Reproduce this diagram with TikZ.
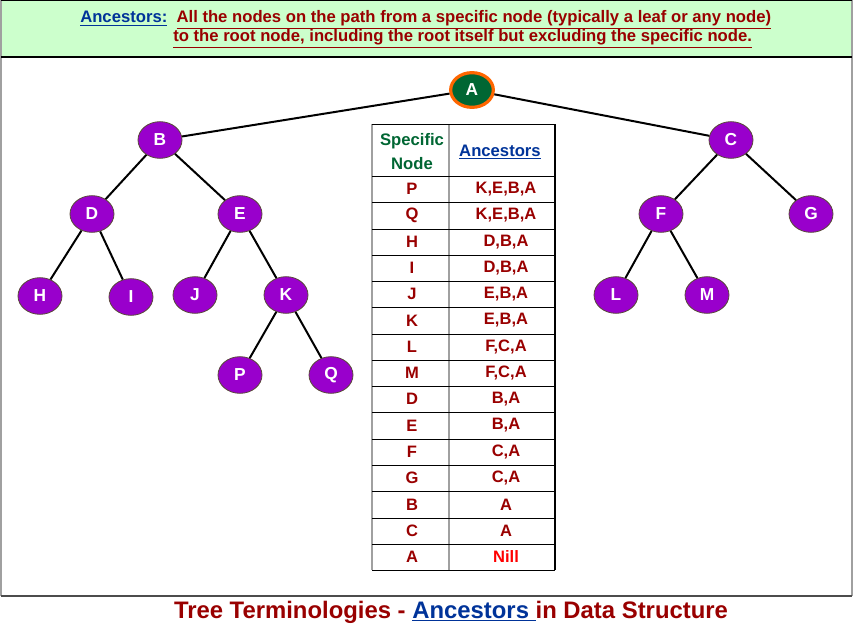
\documentclass[tikz,border=0pt]{standalone}
\usepackage{fontspec}
\setmainfont{Liberation Sans}
\usetikzlibrary{shapes.geometric}
\definecolor{darkred}{HTML}{990000}
\definecolor{navy}{HTML}{003399}
\definecolor{hdrgreen}{HTML}{006633}
\definecolor{violet}{HTML}{9900CC}
\definecolor{band}{HTML}{CCFFCC}
\definecolor{ring}{HTML}{FF6600}
\definecolor{nill}{HTML}{FF0000}
\definecolor{rim}{HTML}{5A4A3A}
\definecolor{frame}{HTML}{A0A0A0}
\tikzset{
  tnode/.style={ellipse, draw=rim, line width=0.6pt, fill=violet, minimum width=33pt,
    minimum height=27.5pt, inner sep=0pt, text=white, font=\bfseries\fontsize{13}{14}\selectfont},
  root/.style={tnode, fill=hdrgreen, draw=ring, line width=2.4pt, minimum width=32pt, minimum height=26pt},
  edge/.style={draw=black, line width=1.5pt},
  grid/.style={draw=black, line width=0.9pt},
  gridv/.style={draw=frame, line width=1pt},
  cell/.style={text=darkred, font=\bfseries\fontsize{12.4}{14}\selectfont},
  defn/.style={anchor=west, font=\bfseries\fontsize{12.5}{14}\selectfont, inner sep=0pt}
}

\begin{document}
\begin{tikzpicture}[x=0.75pt,y=-0.75pt]
  \useasboundingbox (0,0) rectangle (854,625);

  % definition band
  \fill[band] (1,1) rectangle (852,57);
  \draw[frame, line width=1.5pt] (1,0) -- (1,596);
  \draw[frame, line width=1.5pt] (852,0) -- (852,596);
  \draw[black, line width=1pt] (1,0.5) -- (852,0.5);
  \draw[black, line width=1.2pt] (1,57) -- (852,57);
  \draw[black!70, line width=1.5pt] (1,596) -- (852,596);

  \node[defn] (def1) at (80,20) {\textcolor{navy}{\underline{Ancestors:}}\ \ \textcolor{darkred}{\underline{All the nodes on the path from a specific node (typically a leaf or any node)}}};
  \node[defn] (def2) at (173,39) {\textcolor{darkred}{\underline{to the root node, including the root itself but excluding the specific node.}}};

  % tree
  \node[root] (A) at (472,90) {A};
  \node[tnode] (B) at (160,140) {B};
  \node[tnode] (C) at (731,140) {C};
  \node[tnode] (D) at (92,214) {D};
  \node[tnode] (E) at (240,214) {E};
  \node[tnode] (F) at (661,214) {F};
  \node[tnode] (G) at (811,214) {G};
  \node[tnode] (H) at (40,296) {H};
  \node[tnode] (I) at (131,297) {I};
  \node[tnode] (J) at (195,295) {J};
  \node[tnode] (K) at (286,295) {K};
  \node[tnode] (L) at (616,295) {L};
  \node[tnode] (M) at (707,295) {M};
  \node[tnode] (P) at (240,375) {P};
  \node[tnode] (Q) at (331,375) {Q};

  \draw[edge] (A) -- (B);
  \draw[edge] (A) -- (C);
  \draw[edge] (B) -- (D);
  \draw[edge] (B) -- (E);
  \draw[edge] (D) -- (H);
  \draw[edge] (D) -- (I);
  \draw[edge] (E) -- (J);
  \draw[edge] (E) -- (K);
  \draw[edge] (K) -- (P);
  \draw[edge] (K) -- (Q);
  \draw[edge] (C) -- (F);
  \draw[edge] (C) -- (G);
  \draw[edge] (F) -- (L);
  \draw[edge] (F) -- (M);

  % ancestor table
  \draw[gridv] (372,124) -- (372,570);
  \draw[gridv] (449,124) -- (449,570);
  \draw[grid] (555,124) -- (555,570);
  \draw[grid] (372,124.5) -- (555,124.5);
  \foreach \k in {0,...,15}
    \draw[grid] (372,{round(176+26.27*\k)+0.5}) -- (555,{round(176+26.27*\k)+0.5});

  \node[align=center, text=hdrgreen, font=\bfseries\fontsize{12.5}{18}\selectfont] (hspec) at (412,152) {Specific\\Node};
  \node[text=navy, font=\bfseries\fontsize{12.5}{14}\selectfont] (hanc) at (500,152) {\underline{Ancestors}};

  \foreach \s/\a/\c [count=\i] in {P/{K,E,B,A}/darkred, Q/{K,E,B,A}/darkred, H/{D,B,A}/darkred,
      I/{D,B,A}/darkred, J/{E,B,A}/darkred, K/{E,B,A}/darkred, L/{F,C,A}/darkred,
      M/{F,C,A}/darkred, D/{B,A}/darkred, E/{B,A}/darkred, F/{C,A}/darkred,
      G/{C,A}/darkred, B/A/darkred, C/A/darkred, A/Nill/nill} {
    \node[cell] (spec\s) at (412,{176+26.27*(\i-0.5)}) {\s};
    \node[cell, text=\c] (anc\s) at (506,{176+26.27*(\i-0.5)}) {\a};
  }

  % caption
  \node[font=\bfseries\fontsize{17.9}{20}\selectfont, text=darkred] (title) at (451,612)
    {Tree Terminologies - \textcolor{navy}{\underline{Ancestors }}in Data Structure};
\end{tikzpicture}
\end{document}
